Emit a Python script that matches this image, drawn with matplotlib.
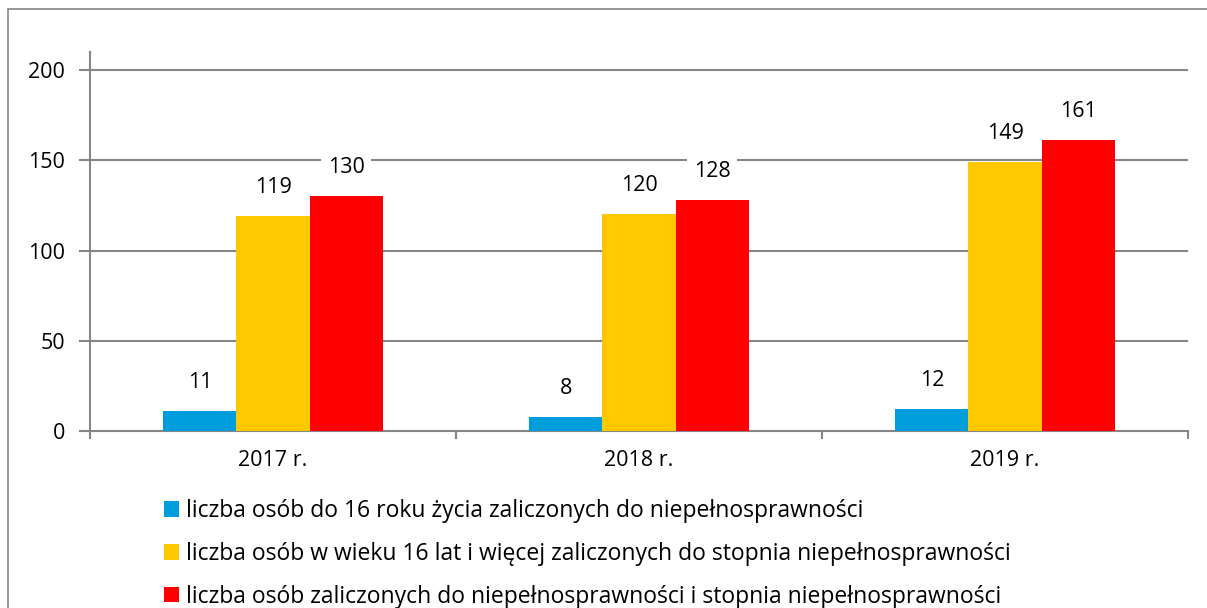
import numpy as np
import matplotlib
matplotlib.use('Agg')
from matplotlib import pyplot as plt
from matplotlib.patches import Rectangle

plt.rcParams['font.family'] = ['Open Sans', 'DejaVu Sans']

# data
years = ['2017 r.', '2018 r.', '2019 r.']
do_16 = [11, 8, 12]
od_16 = [119, 120, 149]
razem = [130, 128, 161]
series_names = ['liczba osób do 16 roku życia zaliczonych do niepełnosprawności',
                'liczba osób w wieku 16 lat i więcej zaliczonych do stopnia niepełnosprawności',
                'liczba osób zaliczonych do niepełnosprawności i stopnia niepełnosprawności']
colors = ['#009DDC', '#FFC800', '#FF0000']

fs = 15.5

fig = plt.figure(figsize=(12.07, 6.08), dpi=100)
ax = fig.add_axes([90/1207, 1-431/608, (1188-90)/1207, (431-52)/608])

# chart border
fig.patches.append(Rectangle((8/1207, -0.1), 1.2, 1.1-9/608, transform=fig.transFigure,
                             fill=False, edgecolor='#868686', linewidth=1.2))

x = np.arange(len(years))
w = 0.2
grid_col = '#868686'
for i, vals in enumerate([do_16, od_16, razem]):
    bars = ax.bar(x + (i-1)*w, vals, width=w, color=colors[i], label=series_names[i], zorder=3)
    for b, v in zip(bars, vals):
        ax.annotate(str(v), (b.get_x()+b.get_width()/2, v), xytext=(0, 20.5),
                    textcoords='offset points', ha='center', va='center',
                    fontsize=fs, zorder=4,
                    bbox=dict(boxstyle='square,pad=0.3', fc='white', ec='none'))

ax.set_xlim(-0.5, 2.5)
ax.set_ylim(0, 210)
ax.set_yticks([0, 50, 100, 150, 200])
for yv in [50, 100, 150, 200]:
    ax.axhline(yv, color=grid_col, linewidth=1.5, zorder=1)

ax.set_xticks([-0.5, 0.5, 1.5, 2.5])
ax.set_xticklabels([])
ax.set_xticks(x, minor=True)
ax.set_xticklabels(years, minor=True, fontsize=fs)
ax.tick_params(axis='x', which='minor', length=0, pad=14)
ax.tick_params(axis='x', which='major', length=6, width=1.5, color=grid_col)
ax.tick_params(axis='y', length=8, width=1.5, color=grid_col, labelsize=fs, pad=10)

for s in ['top', 'right']:
    ax.spines[s].set_visible(False)
for s in ['left', 'bottom']:
    ax.spines[s].set_color(grid_col)
    ax.spines[s].set_linewidth(1.5)

leg = fig.legend(loc='upper left', bbox_to_anchor=(155/1207, 1-490/608), frameon=False,
                 fontsize=16.5, handlelength=0.65, handleheight=0.65, handletextpad=0.3,
                 labelspacing=0.82, borderaxespad=0)

fig.savefig('out.png', dpi=100)
